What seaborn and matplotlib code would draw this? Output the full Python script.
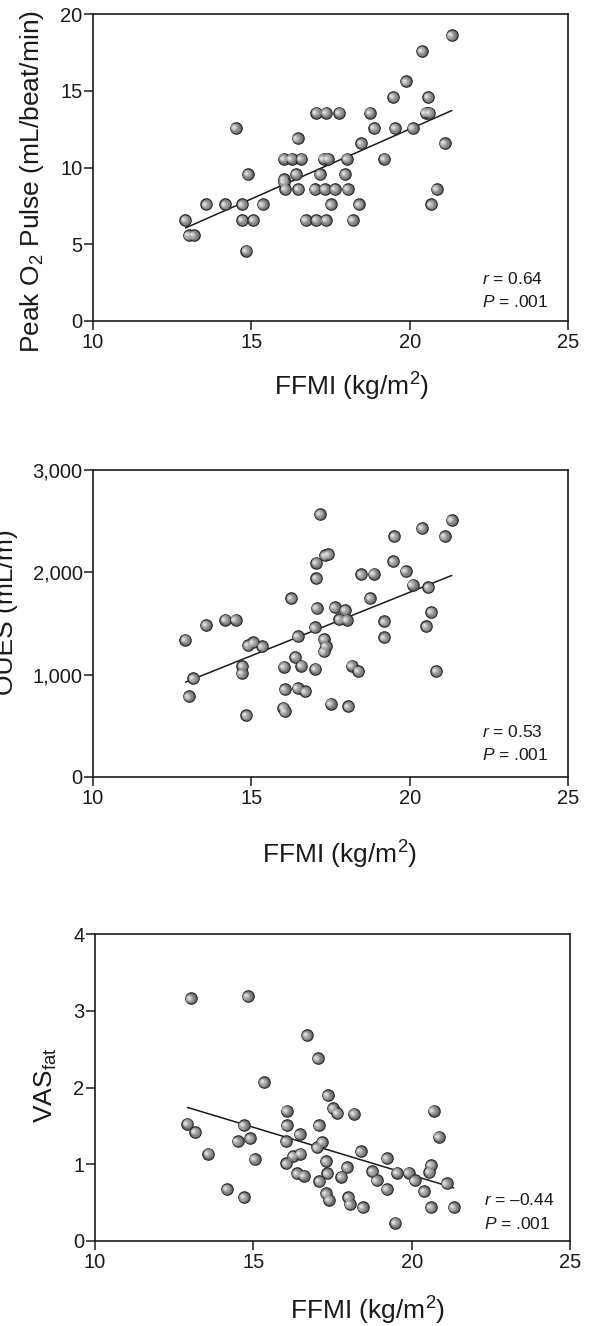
import seaborn as sns
import pandas as pd
import matplotlib
matplotlib.use("Agg")
import matplotlib.pyplot as plt
from matplotlib.transforms import ScaledTranslation

# panel A: peak O2 pulse vs FFMI
ffmi_a = [21.33, 20.39, 19.89, 19.48, 20.59, 17.05, 17.36, 17.78, 18.75, 20.50, 20.62,
          14.51, 18.88, 19.54, 20.10, 16.46, 18.47, 21.11, 16.03, 16.27, 16.58, 17.28,
          17.42, 18.02, 19.20, 14.90, 16.41, 17.17, 17.96, 16.03, 16.03, 16.07, 16.48,
          17.00, 17.32, 17.64, 18.04, 20.85, 13.58, 14.18, 14.72, 15.36, 17.52, 18.40,
          20.68, 12.92, 14.72, 15.06, 16.72, 17.05, 17.36, 18.20, 13.02, 13.18, 14.84]
o2_pulse = [18.62, 17.60, 15.61, 14.59, 14.59, 13.58, 13.58, 13.58, 13.58, 13.58, 13.58,
            12.58, 12.58, 12.58, 12.58, 11.90, 11.59, 11.59, 10.57, 10.57, 10.57, 10.57,
            10.57, 10.57, 10.57, 9.59, 9.59, 9.59, 9.59, 9.24, 9.06, 8.60, 8.60,
            8.60, 8.60, 8.60, 8.60, 8.60, 7.60, 7.60, 7.60, 7.60, 7.60, 7.60,
            7.60, 6.59, 6.59, 6.59, 6.59, 6.59, 6.59, 6.59, 5.59, 5.59, 4.59]

# panel B: OUES vs FFMI
ffmi_b = [17.17, 21.33, 20.39, 19.52, 21.11, 17.33, 17.43, 17.05, 19.48, 19.88, 18.47,
          18.87, 17.05, 20.09, 20.59, 16.26, 18.75, 17.07, 17.63, 17.96, 20.68, 13.57,
          14.18, 14.50, 17.78, 18.01, 19.20, 20.53, 17.00, 16.47, 12.92, 17.30, 19.20,
          15.06, 14.90, 15.35, 17.35, 17.29, 16.39, 14.72, 16.03, 16.58, 17.02, 18.17,
          18.38, 20.84, 14.70, 13.17, 16.05, 16.46, 16.71, 13.02, 17.51, 18.06, 16.01,
          16.05, 14.84]
oues = [2571, 2512, 2434, 2352, 2352, 2165, 2175, 2094, 2110, 2015, 1982,
        1986, 1943, 1881, 1855, 1747, 1750, 1652, 1659, 1632, 1613, 1485,
        1537, 1537, 1541, 1537, 1521, 1475, 1462, 1377, 1341, 1348, 1364,
        1315, 1289, 1276, 1279, 1227, 1174, 1086, 1079, 1089, 1060, 1089,
        1037, 1037, 1014, 965, 857, 870, 837, 788, 716, 690, 677,
        644, 605]

# panel C: VAS fat vs FFMI
ffmi_c = [13.02, 14.82, 16.70, 17.03, 15.34, 17.35, 17.52, 17.65, 16.05, 18.18, 20.69,
          12.92, 14.70, 16.05, 17.07, 13.17, 16.46, 20.85, 14.90, 14.50, 16.03, 17.17,
          17.01, 18.39, 13.58, 16.25, 16.48, 19.21, 15.04, 17.30, 16.04, 20.61, 17.96,
          20.56, 19.54, 19.90, 18.76, 16.38, 17.34, 16.59, 17.78, 18.89, 20.09, 17.08,
          21.10, 14.17, 19.21, 20.39, 17.30, 18.00, 14.71, 17.39, 18.04, 18.45, 20.61,
          21.33, 19.48]
vas_fat = [3.16, 3.19, 2.68, 2.38, 2.07, 1.90, 1.73, 1.67, 1.70, 1.66, 1.70,
           1.53, 1.51, 1.51, 1.51, 1.42, 1.39, 1.36, 1.34, 1.30, 1.30, 1.29,
           1.22, 1.17, 1.14, 1.11, 1.14, 1.08, 1.07, 1.04, 1.01, 0.99, 0.96,
           0.90, 0.89, 0.89, 0.91, 0.88, 0.88, 0.85, 0.84, 0.79, 0.79, 0.78,
           0.75, 0.68, 0.68, 0.65, 0.62, 0.57, 0.57, 0.54, 0.48, 0.44, 0.44,
           0.44, 0.24]

x_ticks = [10, 15, 20, 25]

panels = [
    dict(x=ffmi_a, y=o2_pulse, ylabel="Peak O$_2$ Pulse (mL/beat/min)",
         ylim=(0, 20), yticks=[0, 5, 10, 15, 20], yfmt="{:.0f}",
         r="0.64", pos=[93, 14], ylab=(-0.099, 0.453), xlab=(0.545, -0.163), txt=(0.138, 0.062)),
    dict(x=ffmi_b, y=oues, ylabel="OUES (mL/m)",
         ylim=(0, 3000), yticks=[0, 1000, 2000, 3000], yfmt="{:,.0f}",
         r="0.53", pos=[93, 470], ylab=(-0.158, 0.537), xlab=(0.52, -0.2), txt=(0.147, 0.072)),
    dict(x=ffmi_c, y=vas_fat, ylabel="VAS$_{\\mathrm{fat}}$",
         ylim=(0, 4), yticks=[0, 1, 2, 3, 4], yfmt="{:.0f}",
         r="\u20130.44", pos=[95, 934], ylab=(-0.076, 0.507), xlab=(0.573, -0.175), txt=(0.134, 0.056)),
]

W, H = 589, 1326
ax_w, ax_h = 475, 307

sns.set_style("ticks")
plt.rcParams["font.family"] = ["Liberation Sans", "DejaVu Sans"]
plt.rcParams["mathtext.fontset"] = "custom"
plt.rcParams["mathtext.rm"] = "Liberation Sans"
plt.rcParams["mathtext.it"] = "Liberation Sans:italic"
plt.rcParams["mathtext.bf"] = "Liberation Sans:bold"

fig = plt.figure(figsize=(W / 100, H / 100), dpi=100)


def shaded_scatter(ax, df):
    # base ball plus lighter blobs nudged left for the 3D look
    sns.scatterplot(data=df, x="x", y="y", ax=ax, s=68, color="#6a6a6a",
                    edgecolor="#262626", linewidth=0.8, zorder=3, legend=False)
    layers = [(46, "#858585", 0.5), (26, "#a8a8a8", 1.0), (10, "#cdcdcd", 1.5), (2, "#e8e8e8", 1.8)]
    for s, c, off in layers:
        sns.scatterplot(data=df, x="x", y="y", ax=ax, s=s, color=c,
                        linewidth=0, zorder=4, legend=False)
        coll = ax.collections[-1]
        coll.set_offset_transform(
            ax.transData + ScaledTranslation(-off / 72, off * 0.4 / 72, fig.dpi_scale_trans))


for p in panels:
    left, top = p["pos"]
    ax = fig.add_axes([left / W, 1 - (top + ax_h) / H, ax_w / W, ax_h / H])
    df = pd.DataFrame({"x": p["x"], "y": p["y"]})

    sns.regplot(data=df, x="x", y="y", ax=ax, scatter=False, ci=None,
                color="#1a1a1a", line_kws={"linewidth": 1.1, "zorder": 2})
    shaded_scatter(ax, df)

    ax.set_xlim(10, 25)
    ax.set_ylim(*p["ylim"])
    ax.set_xticks(x_ticks)
    ax.set_yticks(p["yticks"])
    ax.set_yticklabels([p["yfmt"].format(v) for v in p["yticks"]])
    ax.tick_params(axis="both", direction="out", length=6.5, width=1.1,
                   labelsize=14.5, colors="#1a1a1a")
    ax.tick_params(axis="x", pad=2)
    ax.tick_params(axis="y", pad=1)
    for sp in ax.spines.values():
        sp.set_linewidth(1.2)
        sp.set_color("#1a1a1a")

    ax.set_xlabel("FFMI (kg/m$^2$)", fontsize=19, color="#1a1a1a")
    ax.set_ylabel(p["ylabel"], fontsize=19, color="#1a1a1a")
    ax.xaxis.set_label_coords(*p["xlab"])
    ax.yaxis.set_label_coords(*p["ylab"])

    tx = 0.82
    ax.text(tx, p["txt"][0], "$\\mathit{r}$ = " + p["r"], transform=ax.transAxes,
            fontsize=12.5, va="center", ha="left", color="#1a1a1a")
    ax.text(tx, p["txt"][1], "$\\mathit{P}$ = .001", transform=ax.transAxes,
            fontsize=12.5, va="center", ha="left", color="#1a1a1a")

fig.savefig("out.png", dpi=100)
